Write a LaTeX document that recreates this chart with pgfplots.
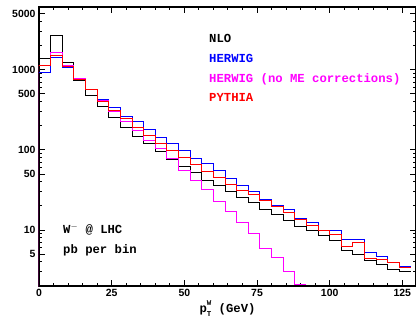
\documentclass[border=0pt]{standalone}
\usepackage{fontspec}
\setmainfont{Liberation Sans}
\newfontfamily\monofont{Liberation Mono}
\usepackage{pgfplots}
\pgfplotsset{compat=1.18}

\definecolor{mag}{RGB}{255,0,255}
\definecolor{pblue}{RGB}{0,0,255}
\definecolor{pred}{RGB}{255,0,0}

\newcommand{\txt}{\monofont\bfseries\fontsize{12.3}{14}\selectfont}
\newcommand{\scr}{\monofont\bfseries\fontsize{7.5}{7.5}\selectfont}

\begin{document}
\begin{tikzpicture}
\useasboundingbox (-39bp,-34bp) rectangle (377bp,286bp);
\begin{axis}[
  at={(0,0)}, anchor=south west,
  scale only axis, width=377bp, height=279bp,
  xmin=0, xmax=129.7,
  ymode=log, ymin=2, ymax=6100,
  xtick={0,25,50,75,100,125},
  minor xtick={5,10,15,20,30,35,40,45,55,60,65,70,80,85,90,95,105,110,115,120},
  ytick={5,10,50,100,500,1000,5000},
  yticklabels={5,10,50,100,500,1000,5000},
  minor ytick={2,3,4,6,7,8,9,20,30,40,60,70,80,90,200,300,400,600,700,800,900,2000,3000,4000},
  /pgf/number format/assume math mode=true,
  ticklabel style={font=\fontsize{10.5}{12}\selectfont\bfseries},
  axis line style={line width=1.2bp},
  tick style={line width=1bp, black},
  major tick length=6bp, minor tick length=3bp,
  xlabel={\txt p\raisebox{-4bp}{\shortstack[l]{\scr W\\[2.2bp]\scr T}} (GeV)},
  xlabel style={at={(axis description cs:0.5,0)}, anchor=base, yshift=-26bp},
  every axis plot/.append style={const plot, line width=1bp, mark=none},
  clip=true,
]
% NLO
\addplot[black] coordinates {
(0,1) (0,1384) (4,2700) (8,1250) (12,740) (16,485) (20,345) (24,256) (28,192)
(32,147) (36,122) (40,97) (44,77) (48,62) (52,52) (56,42) (60,36)
(64,30) (68,25.5) (72,21.8) (76,18.2) (80,15.8) (84,13.1) (88,11.2) (92,9.8)
(96,8.5) (100,7.5) (104,5.5) (108,4.9) (112,4.2) (116,3.7) (120,3.2) (124,3.0) (128,3.0)};
% HERWIG
\addplot[pblue] coordinates {
(0,1) (0,925) (4,1410) (8,1060) (12,750) (16,570) (20,430) (24,340) (28,263)
(32,226) (36,181) (40,144) (44,122) (48,98) (52,79) (56,68) (60,56)
(64,44) (68,36) (72,30) (76,24.3) (80,20.5) (84,17.8) (88,14.0) (92,12.3)
(96,10.0) (100,9.8) (104,7.7) (108,7.6) (112,5.3) (116,4.7) (120,3.9) (124,3.5) (128,3.5)};
% HERWIG without matrix-element corrections
\addplot[mag] coordinates {
(0,1) (0,1150) (4,1650) (8,1150) (12,770) (16,575) (20,413) (24,302) (28,226)
(32,173) (36,133) (40,105) (44,79) (48,56) (52,42) (56,32) (60,23)
(64,17) (68,12.5) (72,9.0) (76,5.9) (80,4.6) (84,3.0) (88,2.1) (92,2.1)};
% PYTHIA
\addplot[pred] coordinates {
(0,1) (0,1144) (4,1530) (8,1110) (12,760) (16,570) (20,405) (24,315) (28,249)
(32,191) (36,150) (40,122) (44,98) (48,81) (52,66) (56,54) (60,45)
(64,37.5) (68,31) (72,28) (76,23.7) (80,19.8) (84,16.4) (88,13.6) (92,11.5)
(96,9.8) (100,8.9) (104,6.3) (108,7.0) (112,4.4) (116,4.3) (120,3.9) (124,3.4) (128,3.4)};

\node[anchor=base west, inner sep=0, black] at (axis description cs:0.451,0.8728) {\txt NLO};
\node[anchor=base west, inner sep=0, pblue] at (axis description cs:0.451,0.8010) {\txt HERWIG};
\node[anchor=base west, inner sep=0, mag]   at (axis description cs:0.451,0.7294) {\txt HERWIG (no ME corrections)};
\node[anchor=base west, inner sep=0, pred]  at (axis description cs:0.451,0.6613) {\txt PYTHIA};
\node[anchor=base west, inner sep=0] at (axis description cs:0.0637,0.1864) {\txt W$^{-}$ @ LHC};
\node[anchor=base west, inner sep=0] at (axis description cs:0.0637,0.1172) {\txt pb per bin};
\end{axis}
\end{tikzpicture}
\end{document}
